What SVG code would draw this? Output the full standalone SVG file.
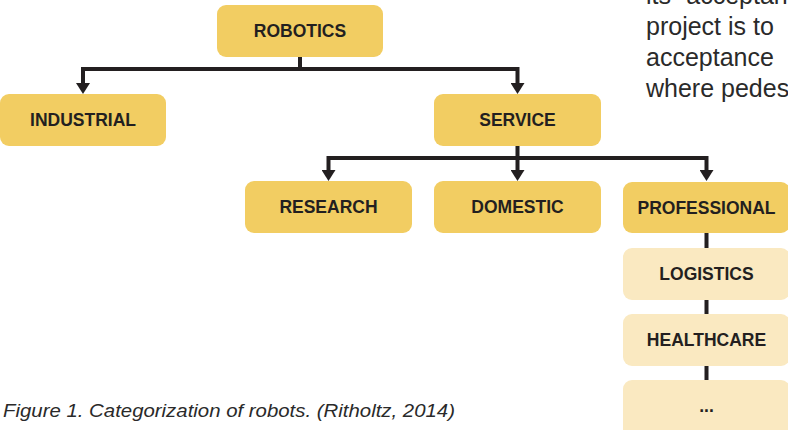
<svg xmlns="http://www.w3.org/2000/svg" width="788" height="430" viewBox="0 0 788 430">
<defs>
<style>
.box{fill:#F2CD62;}
.lbox{fill:#FAE9C1;}
.lbl{font-family:"Liberation Sans",Arial,sans-serif;font-weight:bold;font-size:17.5px;fill:#231F20;text-anchor:middle;}
.con{fill:none;stroke:#231F20;stroke-width:4;}
.body{font-family:"Liberation Sans",Arial,sans-serif;font-size:25px;fill:#2a2a2a;}
.cap{font-family:"Liberation Sans",Arial,sans-serif;font-style:italic;font-size:19px;fill:#2a2a2a;}
</style>
<marker id="arr" viewBox="0 -7 11 14" markerWidth="11" markerHeight="14" refX="0" refY="0" orient="auto" markerUnits="userSpaceOnUse">
<path d="M0,-7 L11,0 L0,7 Z" fill="#231F20"/>
</marker>
</defs>
<rect width="788" height="430" fill="#ffffff"/>
<g id="bodytext">
<text class="body" x="646" y="4">its “acceptan</text>
<text class="body" x="646" y="34.5">project is to</text>
<text class="body" x="646" y="65.5">acceptance</text>
<text class="body" x="646" y="97">where pedes</text>
</g>
<g id="connectors">
<path class="con" d="M300,57 V69 M83,69 H517.5"/>
<path class="con" d="M83,67 V83" marker-end="url(#arr)"/>
<path class="con" d="M517.5,67 V83" marker-end="url(#arr)"/>
<path class="con" d="M517.5,146 V158 M328.5,158 H706.5"/>
<path class="con" d="M328.5,156 V170" marker-end="url(#arr)"/>
<path class="con" d="M517.5,156 V170" marker-end="url(#arr)"/>
<path class="con" d="M706.5,156 V170" marker-end="url(#arr)"/>
<path class="con" d="M706.5,232 V385"/>
</g>
<g id="robotics"><rect class="box" x="217" y="5" width="166" height="52" rx="9"/><text class="lbl" x="300" y="37.3">ROBOTICS</text></g>
<g id="industrial"><rect class="box" x="0" y="94" width="166" height="52" rx="9"/><text class="lbl" x="83" y="126.3">INDUSTRIAL</text></g>
<g id="service"><rect class="box" x="434" y="94" width="167" height="52" rx="9"/><text class="lbl" x="517.5" y="126.3">SERVICE</text></g>
<g id="research"><rect class="box" x="245" y="181" width="167" height="52" rx="9"/><text class="lbl" x="328.5" y="213.3">RESEARCH</text></g>
<g id="domestic"><rect class="box" x="434" y="181" width="167" height="52" rx="9"/><text class="lbl" x="517.5" y="213.3">DOMESTIC</text></g>
<g id="professional"><rect class="box" x="623" y="182" width="167" height="51" rx="9"/><text class="lbl" x="706.5" y="214">PROFESSIONAL</text></g>
<g id="logistics"><rect class="lbox" x="623" y="248" width="167" height="52" rx="9"/><text class="lbl" x="706.5" y="280.3">LOGISTICS</text></g>
<g id="healthcare"><rect class="lbox" x="623" y="314" width="167" height="52" rx="9"/><text class="lbl" x="706.5" y="346.3">HEALTHCARE</text></g>
<g id="more"><rect class="lbox" x="623" y="380" width="167" height="60" rx="9"/><text class="lbl" x="706.5" y="412.3">...</text></g>
<text class="cap" x="3" y="417" textLength="452" lengthAdjust="spacingAndGlyphs">Figure 1. Categorization of robots. (Ritholtz, 2014)</text>
</svg>
